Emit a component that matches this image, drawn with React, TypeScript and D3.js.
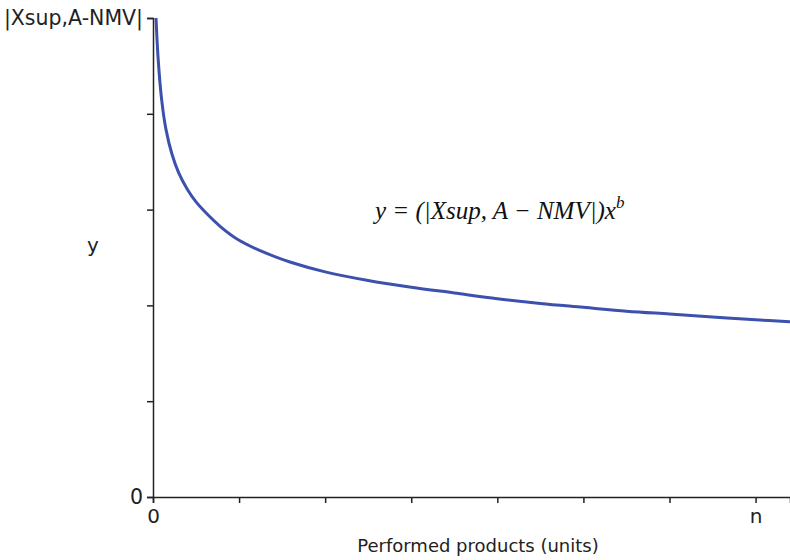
import React, { useEffect, useRef } from "react";
import * as d3 from "d3";

// values (x in tick units, y in tick units)
const curveX = [0.035, 0.06, 0.1, 0.15, 0.22, 0.3, 0.4, 0.5, 0.6, 0.8, 1.0, 1.3, 1.6, 2.0, 2.5, 3.0, 3.5, 4.0, 4.5, 5.0, 5.5, 6.0, 6.5, 7.0, 7.4];
const curveY = [5.0, 4.57, 4.15, 3.84, 3.58, 3.38, 3.21, 3.08, 2.98, 2.81, 2.68, 2.55, 2.45, 2.35, 2.26, 2.19, 2.13, 2.07, 2.02, 1.98, 1.94, 1.91, 1.88, 1.85, 1.83];
const xTicks = [0, 1, 2, 3, 4, 5, 6, 7];
const xTickLabels = ["0", "", "", "", "", "", "", "n"];
const yTicks = [0, 1, 2, 3, 4, 5];
const yTickLabels = ["0", "", "", "", "", "|Xsup,A-NMV|"];

export default function App() {
  const ref = useRef<SVGSVGElement>(null);
  const width = 790;
  const height = 560;

  useEffect(() => {
    const svg = d3.select(ref.current);
    svg.selectAll("*").remove();

    const x = d3.scaleLinear().domain([0, 7.4]).range([153, 790]);
    const y = d3.scaleLinear().domain([0, 5]).range([497, 18]);

    // x axis
    const gx = svg.append("g")
      .attr("transform", `translate(0, ${y(0)})`)
      .call(d3.axisBottom(x).tickValues(xTicks).tickSizeOuter(0).tickSize(6)
        .tickFormat((d, i) => xTickLabels[i]));
    gx.selectAll("text").style("font-size", "20px").attr("dy", "0.85em");

    // y axis
    const gy = svg.append("g")
      .attr("transform", `translate(${x(0)}, 0)`)
      .call(d3.axisLeft(y).tickValues(yTicks).tickSizeOuter(0).tickSize(6)
        .tickFormat((d, i) => yTickLabels[i]));
    gy.selectAll("text").style("font-size", "20.5px").attr("x", -10);

    svg.selectAll(".domain, .tick line").attr("stroke", "#222").attr("stroke-width", 1.5);
    svg.selectAll(".tick text").attr("fill", "#222").style("font-family", "DejaVu Sans");

    // curve
    const pts = curveX.map((v, i) => [v, curveY[i]] as [number, number]);
    svg.append("path")
      .datum(pts)
      .attr("fill", "none")
      .attr("stroke", "#3c50ad")
      .attr("stroke-width", 3)
      .attr("d", d3.line<[number, number]>()
        .x(d => x(d[0]))
        .y(d => y(d[1]))
        .curve(d3.curveCatmullRom.alpha(0.5)));

    // axis titles
    svg.append("text")
      .attr("x", 478)
      .attr("y", 552)
      .attr("text-anchor", "middle")
      .style("font-family", "DejaVu Sans")
      .style("font-size", "18px")
      .attr("fill", "#222")
      .text("Performed products (units)");

    svg.append("text")
      .attr("x", 93)
      .attr("y", 252)
      .attr("text-anchor", "middle")
      .style("font-family", "DejaVu Sans")
      .style("font-size", "20px")
      .attr("fill", "#222")
      .text("y");

    // formula
    const f = svg.append("text")
      .attr("x", 375)
      .attr("y", 219)
      .style("font-family", "Liberation Serif")
      .style("font-style", "italic")
      .style("font-size", "25px")
      .attr("fill", "#111");
    f.append("tspan").text("y = (|Xsup, A − NMV|)x");
    f.append("tspan").attr("dy", -11).style("font-size", "17px").text("b");
  }, []);

  return (
    <svg ref={ref} width={width} height={height}
      style={{ position: "absolute", left: 0, top: 0, background: "#fff" }} />
  );
}
